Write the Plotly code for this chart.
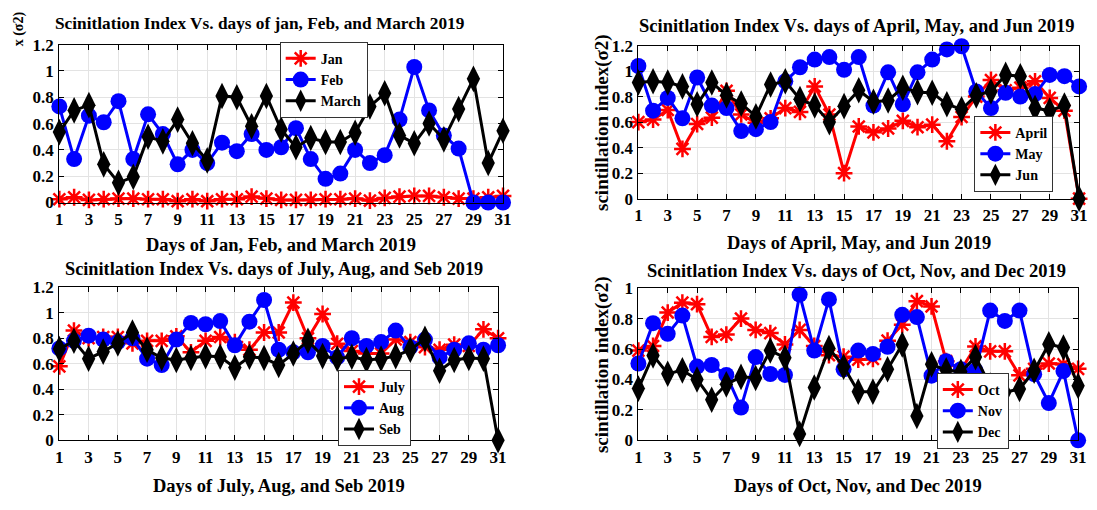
import plotly.graph_objects as go

days = list(range(1, 32))
odd_days = list(range(1, 32, 2))

# Jan / Feb / March
jan = [0.025, 0.04, 0.02, 0.025, 0.03, 0.03, 0.025, 0.025, 0.01, 0.025, 0.01, 0.025, 0.025, 0.045, 0.03,
       0.02, 0.02, 0.02, 0.025, 0.025, 0.03, 0.015, 0.035, 0.045, 0.05, 0.05, 0.04, 0.03, 0.03, 0.04, 0.05]
feb = [0.73, 0.33, 0.66, 0.61, 0.77, 0.33, 0.67, 0.52, 0.29, 0.40, 0.30, 0.455, 0.39, 0.52, 0.40,
       0.42, 0.565, 0.33, 0.18, 0.22, 0.40, 0.30, 0.36, 0.63, 1.03, 0.70, 0.51, 0.41, 0.0, 0.0, 0.0]
march = [0.535, 0.70, 0.74, 0.29, 0.15, 0.195, 0.50, 0.465, 0.63, 0.45, 0.32, 0.81, 0.80, 0.58, 0.81,
         0.555, 0.42, 0.49, 0.46, 0.46, 0.53, 0.73, 0.83, 0.51, 0.45, 0.60, 0.48, 0.71, 0.94, 0.30, 0.545]

# April / May / Jun
april = [0.60, 0.62, 0.695, 0.39, 0.585, 0.635, 0.845, 0.66, 0.595, 0.63, 0.71, 0.68, 0.88, 0.66, 0.20,
         0.566, 0.52, 0.55, 0.61, 0.56, 0.58, 0.45, 0.64, 0.80, 0.93, 0.85, 0.87, 0.92, 0.79, 0.69, 0.0]
may = [1.04, 0.69, 0.79, 0.63, 0.95, 0.73, 0.71, 0.53, 0.545, 0.60, 0.92, 1.03, 1.09, 1.11, 1.01,
       1.11, 0.73, 0.99, 0.74, 0.99, 1.09, 1.17, 1.195, 0.84, 0.71, 0.83, 0.80, 0.82, 0.97, 0.96, 0.88]
jun = [0.91, 0.92, 0.91, 0.88, 0.74, 0.91, 0.81, 0.745, 0.645, 0.895, 0.92, 0.78, 0.73, 0.60, 0.725,
       0.85, 0.76, 0.77, 0.87, 0.835, 0.83, 0.74, 0.70, 0.81, 0.84, 0.97, 0.96, 0.71, 0.69, 0.73, 0.0]

# July / Aug / Seb
july = [0.58, 0.86, 0.80, 0.81, 0.81, 0.76, 0.78, 0.78, 0.815, 0.69, 0.78, 0.81, 0.77, 0.71, 0.845,
        0.845, 1.08, 0.80, 0.99, 0.757, 0.70, 0.68, 0.68, 0.79, 0.77, 0.73, 0.71, 0.75, 0.74, 0.87, 0.80]
aug = [0.72, 0.78, 0.82, 0.79, 0.77, 0.80, 0.64, 0.59, 0.79, 0.92, 0.91, 0.935, 0.745, 0.93, 1.10,
       0.71, 0.69, 0.69, 0.74, 0.65, 0.80, 0.74, 0.77, 0.86, 0.73, 0.79, 0.65, 0.71, 0.76, 0.71, 0.745]
seb = [0.715, 0.78, 0.64, 0.695, 0.76, 0.845, 0.71, 0.645, 0.63, 0.645, 0.66, 0.655, 0.57, 0.655, 0.645,
       0.59, 0.68, 0.78, 0.66, 0.64, 0.655, 0.63, 0.64, 0.66, 0.71, 0.795, 0.545, 0.63, 0.645, 0.64, 0.0]

# Oct / Nov / Dec
octo = [0.59, 0.62, 0.84, 0.905, 0.895, 0.68, 0.695, 0.80, 0.726, 0.705, 0.63, 0.726, 0.62, 0.56, 0.55,
        0.53, 0.535, 0.655, 0.76, 0.915, 0.88, 0.52, 0.46, 0.617, 0.585, 0.585, 0.427, 0.47, 0.505, 0.50, 0.47]
nov = [0.505, 0.77, 0.70, 0.82, 0.485, 0.495, 0.43, 0.215, 0.547, 0.436, 0.43, 0.958, 0.59, 0.926, 0.467,
       0.59, 0.568, 0.615, 0.825, 0.81, 0.425, 0.52, 0.467, 0.46, 0.853, 0.785, 0.853, 0.435, 0.245, 0.455, 0.0]
dec = [0.34, 0.558, 0.438, 0.46, 0.40, 0.267, 0.368, 0.417, 0.41, 0.59, 0.543, 0.042, 0.347, 0.606, 0.484,
       0.32, 0.32, 0.467, 0.63, 0.16, 0.50, 0.46, 0.45, 0.547, 0.36, 0.316, 0.337, 0.457, 0.632, 0.61, 0.358]

panels = [
    {"names": ["Jan", "Feb", "March"], "data": [jan, feb, march],
     "title": "Scinitlation Index Vs. days of jan, Feb, and March 2019",
     "xlabel": "Days of Jan, Feb, and March 2019", "ymax": 1.2,
     "box": (56, 505, 37, 201), "legend": (279, 34),
     "title_pos": (259, 15, 17.3), "xlabel_y": 245},
    {"names": ["April", "May", "Jun"], "data": [april, may, jun],
     "title": "Scinitlation Index Vs. days of April, May, and Jun 2019",
     "xlabel": "Days of April, May, and Jun 2019", "ymax": 1.2,
     "box": (642, 1088, 38, 197), "legend": (982, 111),
     "title_pos": (863, 18, 18.5), "xlabel_y": 243},
    {"names": ["July", "Aug", "Seb"], "data": [july, aug, seb],
     "title": "Scinitlation Index Vs. days of July, Aug, and Seb 2019",
     "xlabel": "Days of July, Aug, and Seb 2019", "ymax": 1.2,
     "box": (56, 500, 289, 448), "legend": (338, 375),
     "title_pos": (273, 270, 18.3), "xlabel_y": 495},
    {"names": ["Oct", "Nov", "Dec"], "data": [octo, nov, dec],
     "title": "Scinitlation Index Vs. days of Oct, Nov, and Dec 2019",
     "xlabel": "Days of Oct, Nov, and Dec 2019", "ymax": 1.0,
     "box": (642, 1087, 290, 448), "legend": (944, 378),
     "title_pos": (863, 272, 18.5), "xlabel_y": 495},
]

W, H = 1097, 510
FONT = "Liberation Serif"
styles = [
    dict(color="#ff0000", marker=dict(symbol="asterisk-open", size=14, color="#ff0000",
                                      line=dict(color="#ff0000", width=2.5))),
    dict(color="#0000ff", marker=dict(symbol="circle", size=16, color="#0000ff",
                                      line=dict(color="#0000ff", width=0))),
    dict(color="#000000", marker=dict(symbol="diamond-tall", size=19, color="#000000",
                                      line=dict(color="#000000", width=0))),
]

fig = go.Figure()
layout = dict(width=W, height=H, margin=dict(l=0, r=0, t=0, b=0),
              paper_bgcolor="white", plot_bgcolor="white", annotations=[])

for i, p in enumerate(panels):
    k = "" if i == 0 else str(i + 1)
    x0, x1, y0, y1 = p["box"]
    lg = "legend" + k
    for j, (name, vals) in enumerate(zip(p["names"], p["data"])):
        st = styles[j]
        fig.add_trace(go.Scatter(
            x=days, y=vals, name=name, mode="lines+markers",
            line=dict(color=st["color"], width=3), marker=st["marker"],
            xaxis="x" + k, yaxis="y" + k, legend=lg, cliponaxis=False))
    ymax = p["ymax"]
    yt = [round(v * 0.2, 1) for v in range(int(round(ymax / 0.2)) + 1)]
    ytxt = [("%g" % v) for v in yt]
    axis_common = dict(showline=True, linecolor="black", linewidth=1.2, mirror="ticks",
                       ticks="inside", ticklen=5, tickcolor="black",
                       showgrid=True, gridcolor="#e3e3e3", gridwidth=1, zeroline=False,
                       tickfont=dict(family=FONT, size=17, color="black", weight="bold"))
    layout["xaxis" + k] = dict(axis_common, domain=[x0 / W, x1 / W], anchor="y" + k,
                               range=[1, 31], tickvals=odd_days, ticklabelstandoff=1)
    layout["yaxis" + k] = dict(axis_common, domain=[1 - y1 / H, 1 - y0 / H], anchor="x" + k,
                               range=[0, ymax], tickvals=yt, ticktext=ytxt,
                               ticklabelstandoff=1)
    lx, ly = p["legend"]
    layout[lg] = dict(x=lx / W, y=1 - ly / H, xanchor="left", yanchor="top",
                      bgcolor="white", bordercolor="#333333", borderwidth=1,
                      font=dict(family=FONT, size=14, color="black", weight="bold"),
                      tracegroupgap=0, itemwidth=30)
    tx, ty, tsize = p["title_pos"]
    layout["annotations"].append(dict(
        text=p["title"], xref="paper", yref="paper", x=tx / W, y=1 - ty / H,
        xanchor="center", yanchor="middle", showarrow=False,
        font=dict(family=FONT, size=tsize, color="black", weight="bold")))
    layout["annotations"].append(dict(
        text=p["xlabel"], xref="paper", yref="paper", x=(x0 + x1) / 2 / W,
        y=1 - p["xlabel_y"] / H,
        xanchor="center", yanchor="middle", showarrow=False,
        font=dict(family=FONT, size=18.5, color="black", weight="bold")))
    if i in (1, 3):
        layout["annotations"].append(dict(
            text="scintillation index(σ2)", xref="paper", yref="paper",
            x=(x0 - 37) / W, y=1 - (y0 + y1) / 2 / H, textangle=-90,
            xanchor="center", yanchor="middle", showarrow=False,
            font=dict(family=FONT, size=19, color="black", weight="bold")))

# top end of the first panel's y label in the upper-left corner
layout["annotations"].append(dict(
    text="x (σ2)", xref="paper", yref="paper", x=15 / W, y=1.0, textangle=-90,
    xanchor="center", yanchor="top", showarrow=False,
    font=dict(family=FONT, size=14, color="black", weight="bold")))

fig.update_layout(**layout)
fig.write_html("out.html")
